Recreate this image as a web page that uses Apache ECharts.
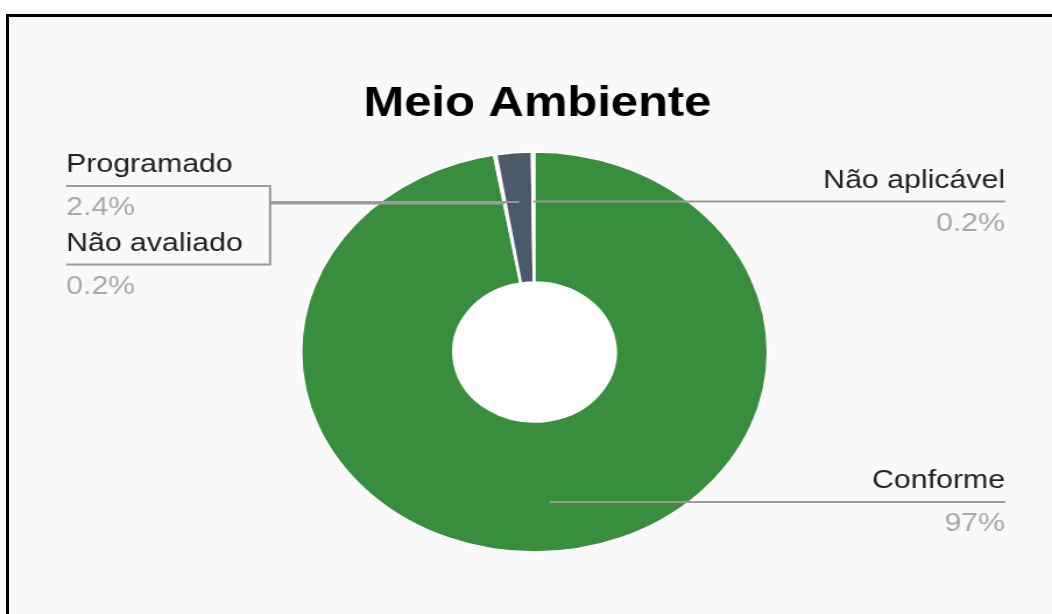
<!DOCTYPE html>
<html><head><meta charset="utf-8">
<script src="https://cdn.jsdelivr.net/npm/echarts@6/dist/echarts.min.js"></script>
<style>
html,body{margin:0;padding:0;background:#fff;width:1052px;height:614px;overflow:hidden}
#frame{position:absolute;left:6px;top:14px;width:1046px;height:600px;border-left:3px solid #000;border-top:3px solid #000;background:#f9f9f9;box-sizing:border-box}
#chart{position:absolute;left:0;top:0;width:903px;height:614px;transform:scaleX(1.165);transform-origin:0 0}
</style></head><body>
<div id="frame"></div><div id="chart"></div>
<script>
const titleText = 'Meio Ambiente';
const categories = ['Conforme', 'Não avaliado', 'Programado', 'Não aplicável'];
const values = [97, 0.2, 2.4, 0.2];
const colors = ['#388e3c', '#ffffff', '#4d5869', '#ffffff'];

const CX = 458.8, CY = 352, R0 = 70, R1 = 200;
const ANCHOR_K = 0.753;
const LEFT_X = 56.7, BRACKET_X = 231.8, RIGHT_X = 862.7;
const NAME_LH = 42, PCT_LH = 44;

const total = values.reduce((a, b) => a + b, 0);
let acc = 0;
const mids = values.map(v => { const m = (acc + v / 2) / total * 360; acc += v; return m; });
const leftIdx = mids.map((m, i) => ({ i, dx: Math.sin(m * Math.PI / 180) * R1 * ANCHOR_K, y: -Math.cos(m * Math.PI / 180) }))
  .filter(o => o.dx <= -5).sort((a, b) => a.y - b.y).map(o => o.i);

const fmtPct = v => (Math.round(v * 10) / 10).toString() + '%';

const pieData = categories.map((c, i) => ({ name: c, value: values[i], itemStyle: { color: colors[i] } }));
const labelData = categories.map((c, i) => ({ name: c, value: values[i] }));

const chart = echarts.init(document.getElementById('chart'), null, { renderer: 'canvas' });
chart.setOption({
  animation: false,
  backgroundColor: 'transparent',
  title: {
    text: titleText, left: 307, top: 78, padding: 5, textAlign: 'left',
    textStyle: { fontFamily: 'Liberation Sans', fontWeight: 'bold', fontSize: 42, color: '#000' }
  },
  series: [
    {
      type: 'pie', silent: true, center: [CX, CY], radius: [0, R0], z: 1,
      label: { show: false }, labelLine: { show: false },
      itemStyle: { color: '#ffffff' }, data: [{ value: 1, name: '' }]
    },
    {
      type: 'pie', center: [CX, CY], radius: [R0, R1], startAngle: 90, clockwise: true,
      silent: true, z: 2,
      itemStyle: { borderColor: '#ffffff', borderWidth: 1.5 },
      emphasis: { disabled: true },
      label: { show: false }, labelLine: { show: false },
      data: pieData
    },
    {
      type: 'pie', center: [CX, CY], radius: [R0, R1], startAngle: 90, clockwise: true,
      avoidLabelOverlap: false, minShowLabelAngle: 0, silent: true, z: 3,
      itemStyle: { color: 'transparent', borderWidth: 0 },
      emphasis: { disabled: true },
      label: {
        show: true, position: 'outside', alignTo: 'none',
        formatter: p => '{n|' + p.name + '}\n{p|' + fmtPct(p.value) + '}',
        rich: {
          n: { fontFamily: 'Liberation Sans', fontSize: 26, color: '#222222', lineHeight: NAME_LH },
          p: { fontFamily: 'Liberation Sans', fontSize: 26, color: '#a8a8a8', lineHeight: PCT_LH }
        }
      },
      labelLine: { show: true, length: 10, length2: 10, smooth: false, lineStyle: { color: '#9a9a9a', width: 2 } },
      labelLayout: function (p) {
        const e = p.labelLinePoints ? p.labelLinePoints[0] : null;
        if (!e) return {};
        const ax = CX + (e[0] - CX) * ANCHOR_K, ay = CY + (e[1] - CY) * ANCHOR_K;
        const rank = leftIdx.indexOf(p.dataIndex);
        if (rank < 0) {
          return { x: RIGHT_X, y: ay - NAME_LH, align: 'right', verticalAlign: 'top',
            labelLinePoints: [[ax, ay], [ax + 1, ay], [RIGHT_X, ay]] };
        }
        const ly = ay - 16 + rank * 77;
        return { x: LEFT_X, y: ly - NAME_LH, align: 'left', verticalAlign: 'top',
          labelLinePoints: [[ax, ay], [BRACKET_X, ay], [BRACKET_X, ly], [LEFT_X, ly]] };
      },
      data: labelData
    }
  ]
});
</script>
</body></html>
